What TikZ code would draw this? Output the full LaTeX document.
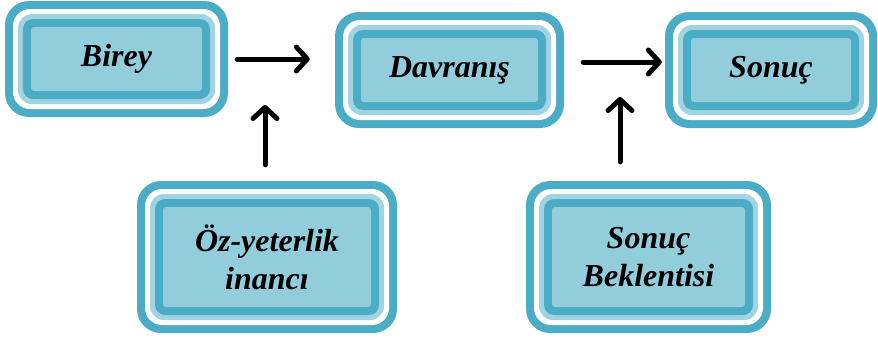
\documentclass[tikz,border=0pt]{standalone}
\usepackage{fontspec}
\setmainfont{Liberation Serif}
\usetikzlibrary{arrows.meta}
\definecolor{rim}{HTML}{4BACC6}
\definecolor{band}{HTML}{A2D3E1}
\definecolor{core}{HTML}{92CDDC}
\tikzset{
  stepbox/.style={
    rectangle, rounded corners=24pt, fill=rim, inner sep=0pt, align=center,
    font=\fontsize{32}{38}\selectfont\bfseries\itshape,
    path picture={
      \fill[white, rounded corners=17pt]
        ([xshift=8pt,yshift=8pt]path picture bounding box.south west) rectangle
        ([xshift=-8pt,yshift=-8pt]path picture bounding box.north east);
      \fill[band, rounded corners=14pt]
        ([xshift=13pt,yshift=13pt]path picture bounding box.south west) rectangle
        ([xshift=-13pt,yshift=-13pt]path picture bounding box.north east);
      \fill[rim, rounded corners=10pt]
        ([xshift=18pt,yshift=18pt]path picture bounding box.south west) rectangle
        ([xshift=-18pt,yshift=-18pt]path picture bounding box.north east);
      \fill[core, rounded corners=3pt]
        ([xshift=26pt,yshift=26pt]path picture bounding box.south west) rectangle
        ([xshift=-26pt,yshift=-26pt]path picture bounding box.north east);
    }},
  flow/.style={line width=5pt, line cap=round,
    -{Straight Barb[length=11pt,width=24pt,line cap=round,line join=round]}}
}
\begin{document}
\begin{tikzpicture}[x=1pt,y=-1pt]
\useasboundingbox (0,0) rectangle (878,338);

% upper row
\node[stepbox, minimum width=223pt, minimum height=116pt] (birey) at (116.5,59) {Birey};
\node[stepbox, minimum width=229pt, minimum height=116pt] (davranis) at (449.5,70) {Davranış};
\node[stepbox, minimum width=212pt, minimum height=116pt] (sonuc) at (771,70) {Sonuç};

% lower row
\node[stepbox, minimum width=260pt, minimum height=152pt] (oz) at (267,257) {Öz-yeterlik\\inancı};
\node[stepbox, minimum width=245pt, minimum height=152pt] (bek) at (648.5,257) {Sonuç\\Beklentisi};

% points where the rising arrows stop
\coordinate (j1) at (265,105);
\coordinate (j2) at (620,97);

% arrows
\draw[flow, shorten <=9pt, shorten >=25pt] (birey.east) -- (davranis.west |- birey.east);
\draw[flow, shorten <=19pt, shorten >=3pt] ([yshift=8pt]davranis.east) -- ([yshift=8pt]sonuc.west);
\draw[flow, shorten <=16pt] (oz.north -| j1) -- (j1);
\draw[flow, shorten <=19pt] (bek.north -| j2) -- (j2);
\end{tikzpicture}
\end{document}
